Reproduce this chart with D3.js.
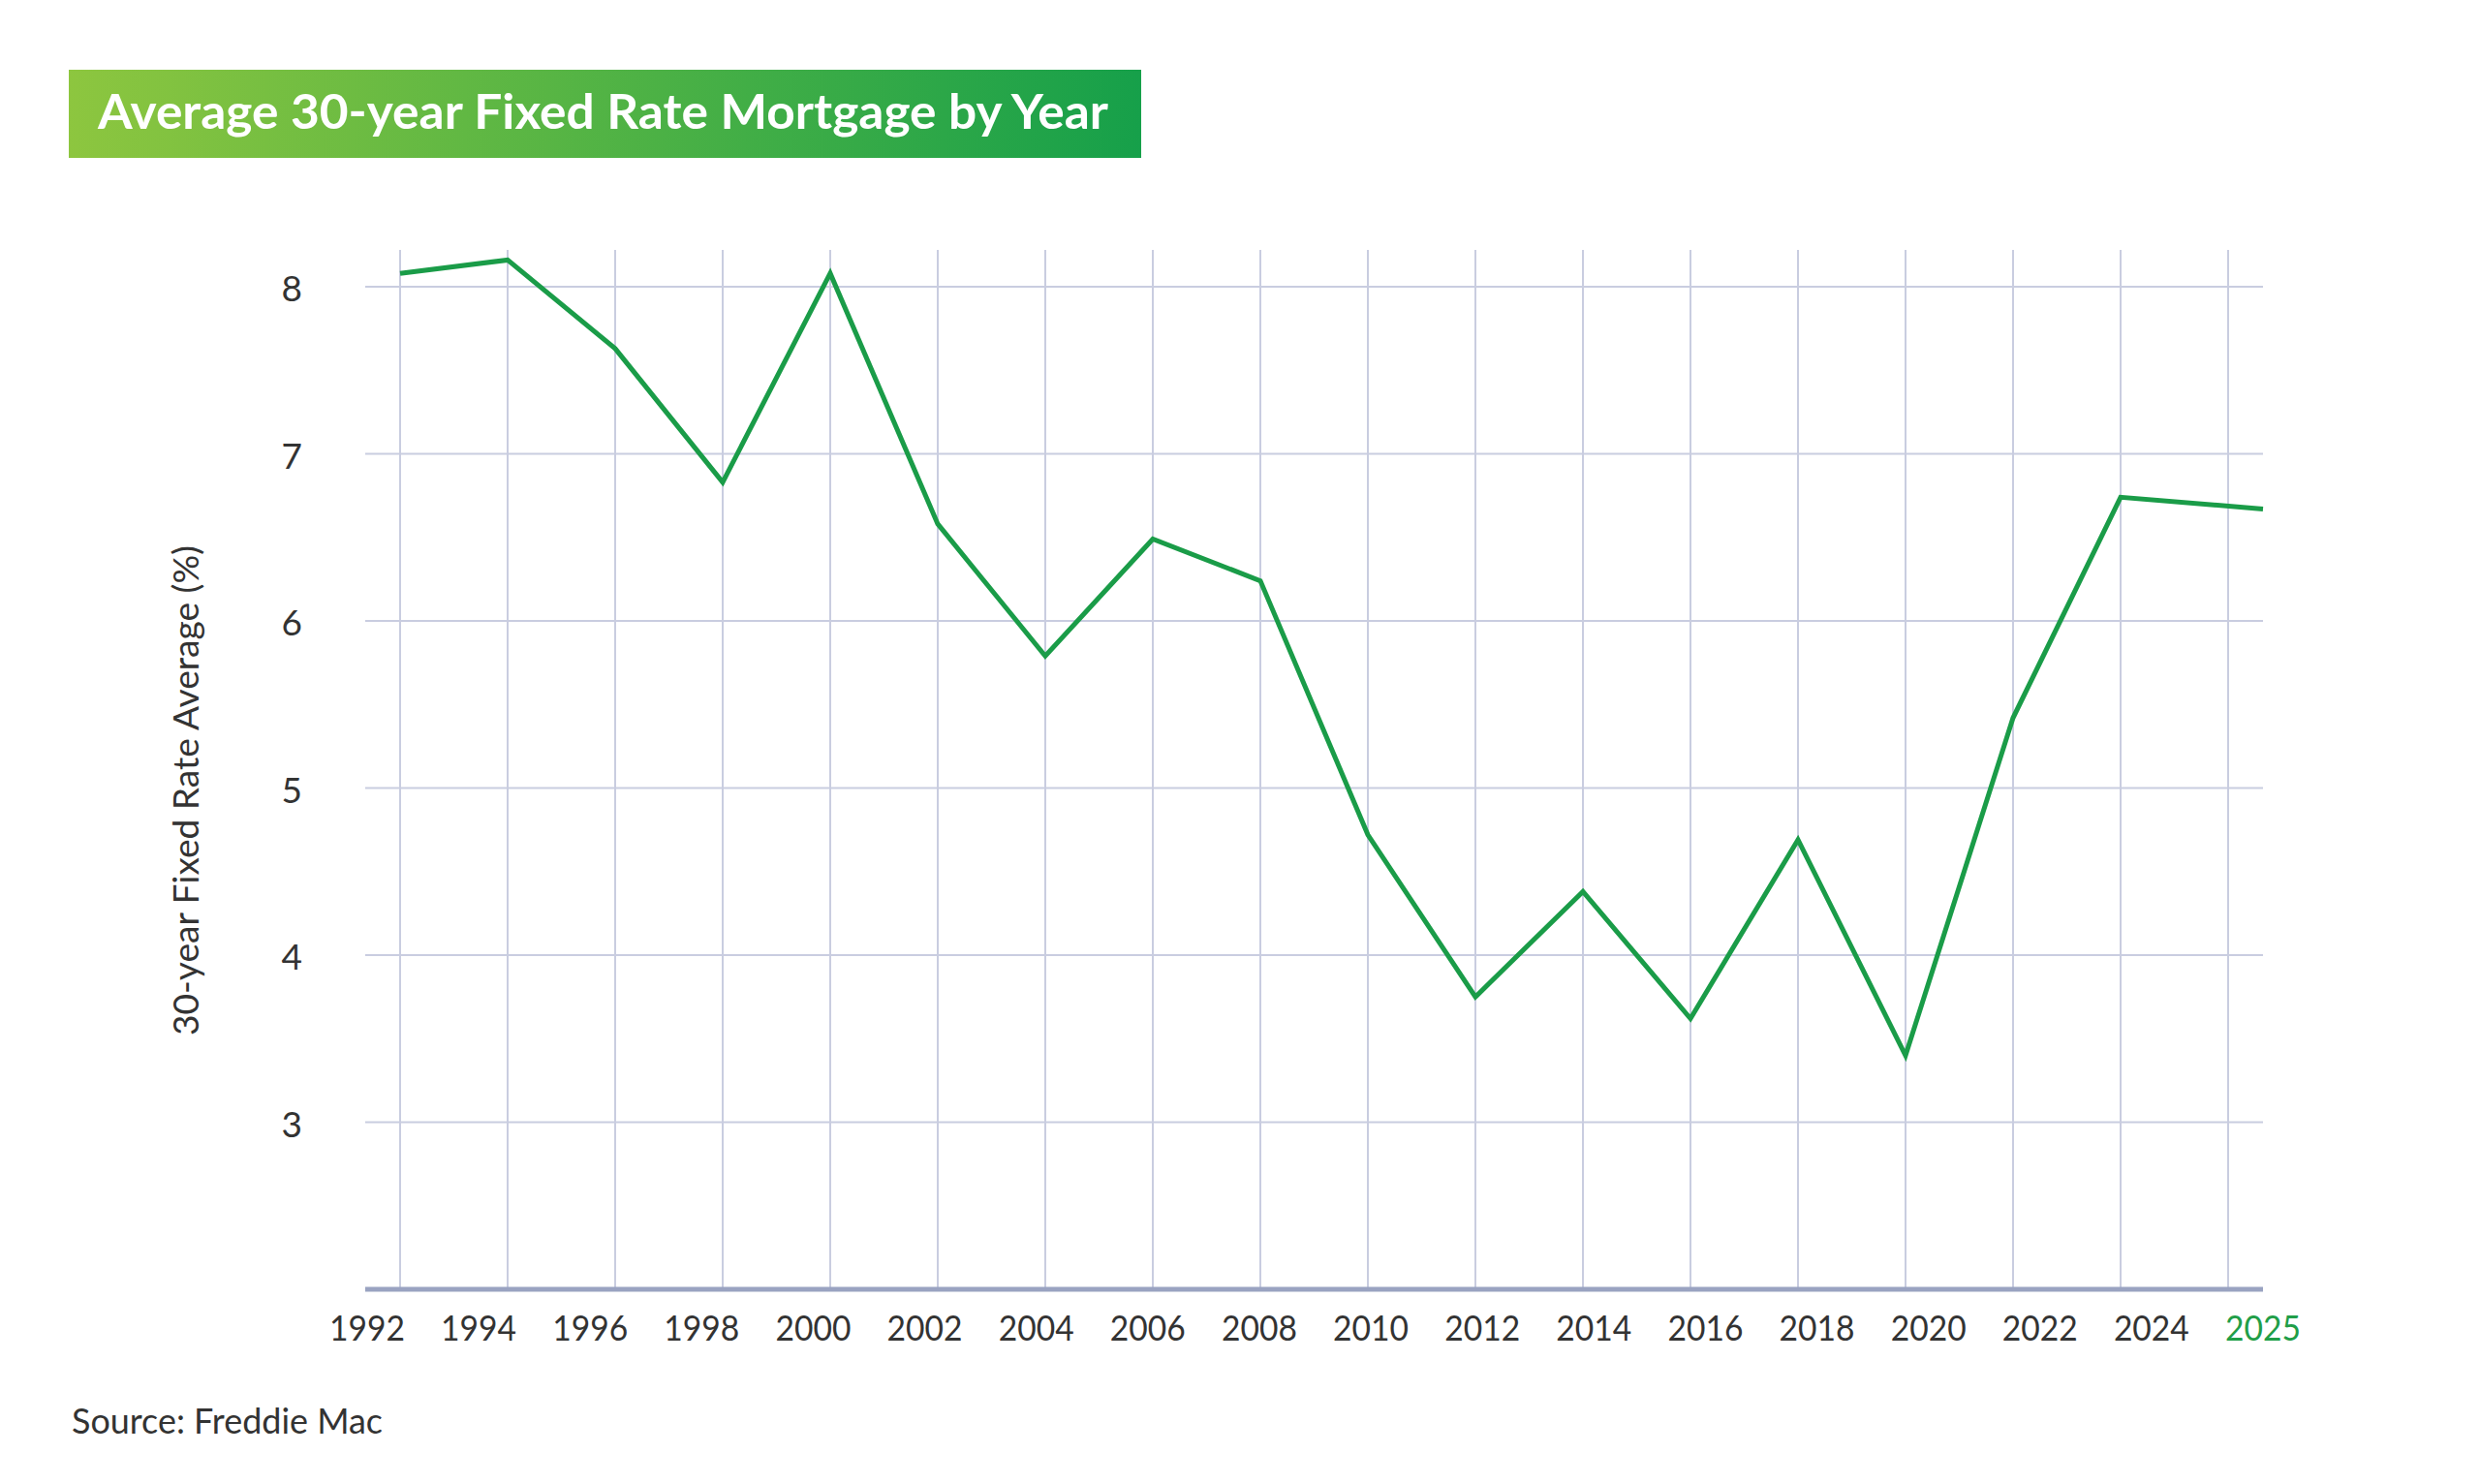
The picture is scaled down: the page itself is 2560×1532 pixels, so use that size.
<!DOCTYPE html>
<html>
<head>
<meta charset="utf-8">
<script src="https://cdn.jsdelivr.net/npm/d3@7"></script>
<style>
  html, body { margin: 0; padding: 0; background: #ffffff; }
  svg { display: block; }
</style>
</head>
<body>
<script>
// ---- data ----
const years = ["1992","1994","1996","1998","2000","2002","2004","2006","2008","2010","2012","2014","2016","2018","2020","2022","2024","2025"];
const rates = [8.08, 8.16, 7.63, 6.83, 8.08, 6.58, 5.79, 6.49, 6.24, 4.72, 3.75, 4.38, 3.62, 4.69, 3.40, 5.42, 6.74, 6.67];
const yTicks = [3, 4, 5, 6, 7, 8];
const titleText = "Average 30-year Fixed Rate Mortgage by Year";
const yAxisTitle = "30-year Fixed Rate Average (%)";
const sourceText = "Source: Freddie Mac";
const highlightYear = "2025";

const W = 2560, H = 1532;
const FONT = "Lato, 'Open Sans', sans-serif";

const svg = d3.select("body").append("svg").attr("width", W).attr("height", H);

// gradient for title box
const defs = svg.append("defs");
const grad = defs.append("linearGradient").attr("id", "tg").attr("x1", "0%").attr("x2", "100%");
grad.append("stop").attr("offset", "0%").attr("stop-color", "#8dc63f");
grad.append("stop").attr("offset", "100%").attr("stop-color", "#16a04a");

svg.append("rect").attr("x", 71).attr("y", 72).attr("width", 1107).attr("height", 91).attr("fill", "url(#tg)");
svg.append("text").attr("x", 101).attr("y", 133)
  .attr("font-family", FONT).attr("font-weight", 700).attr("font-size", 50)
  .attr("fill", "#ffffff")
  .attr("textLength", 1043).attr("lengthAdjust", "spacingAndGlyphs")
  .text(titleText);

// scales
const plotLeft = 377, plotRight = 2336;
const y = d3.scaleLinear().domain([2, 8]).range([1331, 296]);
const xGrid = d3.scalePoint().domain(years).range([413, 2300]);
const xLab = d3.scalePoint().domain(years).range([379, 2336]);
const lastIdx = years.length - 1;
const px = (d, i) => (i === lastIdx ? xLab(d) : xGrid(d));

const gridColor = "#c9cde0";

// horizontal gridlines
svg.append("g").selectAll("line").data(yTicks).join("line")
  .attr("x1", plotLeft).attr("x2", plotRight)
  .attr("y1", d => y(d)).attr("y2", d => y(d))
  .attr("stroke", gridColor).attr("stroke-width", 2);

// vertical gridlines
svg.append("g").selectAll("line").data(years).join("line")
  .attr("x1", d => xGrid(d)).attr("x2", d => xGrid(d))
  .attr("y1", y(8.22)).attr("y2", y(2))
  .attr("stroke", gridColor).attr("stroke-width", 2);

// baseline
svg.append("line").attr("x1", plotLeft).attr("x2", plotRight)
  .attr("y1", y(2)).attr("y2", y(2))
  .attr("stroke", "#9aa3c1").attr("stroke-width", 5);

// y tick labels
svg.append("g").selectAll("text").data(yTicks).join("text")
  .attr("x", 312).attr("y", d => y(d) + 6)
  .attr("text-anchor", "end").attr("dominant-baseline", "middle")
  .attr("font-family", FONT).attr("font-size", 37).attr("fill", "#333333")
  .text(d => d);

// x tick labels
svg.append("g").selectAll("text").data(years).join("text")
  .attr("x", d => xLab(d)).attr("y", 1384)
  .attr("text-anchor", "middle")
  .attr("font-family", FONT).attr("font-size", 37)
  .attr("fill", d => d === highlightYear ? "#1f9e48" : "#333333")
  .attr("textLength", 78).attr("lengthAdjust", "spacingAndGlyphs")
  .text(d => d);

// y axis title
svg.append("text")
  .attr("transform", `translate(205, 816) rotate(-90)`)
  .attr("text-anchor", "middle")
  .attr("font-family", FONT).attr("font-size", 36).attr("fill", "#333333")
  .attr("textLength", 506).attr("lengthAdjust", "spacingAndGlyphs")
  .text(yAxisTitle);

// line
const line = d3.line()
  .x((d, i) => px(d.year, i))
  .y(d => y(d.rate));
const data = years.map((yr, i) => ({ year: yr, rate: rates[i] }));
svg.append("path").datum(data)
  .attr("d", line)
  .attr("fill", "none").attr("stroke", "#1a9c48").attr("stroke-width", 5)
  .attr("stroke-linejoin", "miter");

// source
svg.append("text").attr("x", 74).attr("y", 1480)
  .attr("font-family", FONT).attr("font-size", 37).attr("fill", "#333333")
  .attr("textLength", 321).attr("lengthAdjust", "spacingAndGlyphs")
  .text(sourceText);
</script>
</body>
</html>
